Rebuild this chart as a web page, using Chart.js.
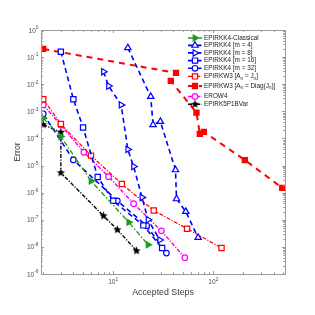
<!DOCTYPE html>
<html>
<head>
<meta charset="utf-8">
<script src="https://cdn.jsdelivr.net/npm/chart.js@4/dist/chart.umd.min.js"></script>
<style>
  html, body { margin: 0; padding: 0; background: #fff; }
  #wrap { width: 315px; height: 315px; }
</style>
</head>
<body>
<div id="wrap"><canvas id="chart" width="315" height="315"></canvas></div>
<script>
// values (accepted steps vs. error)
const methodNames = ['EPIRKK4-Classical', 'EPIRKK4 [m = 4]', 'EPIRKK4 [m = 8]', 'EPIRKK4 [m = 16]',
  'EPIRKK4 [m = 32]', 'EPIRKW3 [A_n = J_n]', 'EPIRKW3 [A_n = Diag(J_n)]', 'EROW4', 'EPIRK5P1BVar'];

const classicalSteps = [2, 3, 6, 14.3, 22.3];
const classicalError = [5.6e-4, 1.17e-4, 2.7e-6, 8.1e-8, 1.2e-8];
const m4Steps = [14, 23.7, 25, 29.6, 41.9, 42.9, 53.1, 70.5];
const m4Error = [0.22, 3.5e-3, 3.2e-4, 4.2e-4, 6.9e-6, 5.9e-7, 2.0e-7, 2.2e-8];
const m8Steps = [8, 9, 12, 14, 16, 19.4, 22.3, 29.2];
const m8Error = [0.029, 8.6e-3, 1.73e-3, 3.95e-5, 9.2e-6, 6.7e-7, 1.0e-7, 1.8e-8];
const m16Steps = [3, 4, 5, 7, 10, 20, 30.8];
const m16Error = [0.158, 2.8e-3, 2.55e-4, 3.8e-6, 5.0e-7, 6.2e-8, 9.1e-9];
const m32Steps = [2, 4, 11, 21.6, 34];
const m32Error = [8.0e-4, 1.62e-5, 5.0e-7, 6.0e-8, 5.9e-9];
const w3JSteps = [2, 3, 6, 12.2, 25.4, 54.7, 120.8];
const w3JError = [2.8e-3, 3.4e-4, 2.33e-5, 2.1e-6, 2.2e-7, 4.7e-8, 9.1e-9];
const w3DiagSteps = [2, 42.4, 37.6, 67.9, 73.3, 80.4, 206.5, 487.5];
const w3DiagError = [0.2, 0.026, 0.0132, 9.0e-4, 1.47e-4, 1.75e-4, 1.6e-5, 1.5e-6];
const erowSteps = [2, 3, 5.1, 9, 16, 30.3, 51.9];
const erowError = [1.73e-3, 3.1e-4, 3.1e-5, 3.9e-6, 3.9e-7, 3.9e-8, 4.0e-9];
const epirk5Steps = [2, 3, 3, 8, 11, 17.1];
const epirk5Error = [3.2e-4, 1.7e-4, 5.4e-6, 1.4e-7, 4.3e-8, 7.2e-9];

const xTickExps = [1, 2];
const yTickExps = [0, -1, -2, -3, -4, -5, -6, -7, -8, -9];

function makeStar(r, color) {
  const c = document.createElement('canvas');
  const s = Math.ceil(r * 2 + 2);
  c.width = c.height = s;
  const g = c.getContext('2d');
  g.beginPath();
  for (let i = 0; i < 10; i++) {
    const rad = i % 2 ? r * 0.45 : r;
    const ang = -Math.PI / 2 + i * Math.PI / 5;
    g.lineTo(s / 2 + rad * Math.cos(ang), s / 2 + rad * Math.sin(ang));
  }
  g.closePath();
  g.fillStyle = color;
  g.fill();
  return c;
}
const starImg = makeStar(4.4, '#000');

const blueDash = [5, 3.5];
const series = [
  {steps: classicalSteps, err: classicalError, color: '#1e9a1e', dash: [5, 2, 1.5, 2], width: 1.3, style: 'triangle', rot: 90, r: 3.5, open: false},
  {steps: m4Steps, err: m4Error, color: '#0000ff', dash: blueDash, width: 1.6, style: 'triangle', rot: 0, r: 3.7, open: true},
  {steps: m8Steps, err: m8Error, color: '#0000ff', dash: blueDash, width: 1.6, style: 'triangle', rot: 90, r: 3.7, open: true},
  {steps: m16Steps, err: m16Error, color: '#0000ff', dash: blueDash, width: 1.6, style: 'rect', rot: 0, r: 3.7, open: true},
  {steps: m32Steps, err: m32Error, color: '#0000ff', dash: blueDash, width: 1.6, style: 'circle', rot: 0, r: 2.8, open: true},
  {steps: w3JSteps, err: w3JError, color: '#ff0000', dash: [4, 1.5, 1.2, 1.5], width: 1.2, style: 'rect', rot: 0, r: 3.7, open: true},
  {steps: w3DiagSteps, err: w3DiagError, color: '#ff0000', dash: [6, 5], width: 2, style: 'rect', rot: 0, r: 3.6, open: false},
  {steps: erowSteps, err: erowError, color: '#ff00ff', dash: [4, 1.5, 1.2, 1.5], width: 1.5, style: 'circle', rot: 0, r: 2.8, open: true},
  {steps: epirk5Steps, err: epirk5Error, color: '#000000', dash: [4, 1.5, 1.2, 1.5], width: 1.4, style: starImg, rot: 0, r: 4.4, open: false}
];

const datasets = series.map((s, i) => ({
  label: methodNames[i],
  data: s.steps.map((v, k) => ({x: v, y: s.err[k]})),
  borderColor: s.color,
  borderWidth: s.width,
  borderDash: s.dash,
  pointStyle: s.style,
  pointRotation: s.rot,
  pointRadius: s.r,
  pointBorderWidth: 1.2,
  pointBorderColor: s.color,
  pointBackgroundColor: s.open ? '#ffffff' : s.color,
  fill: false,
  tension: 0
}));

// draws "10" with a raised exponent; align: 'right' or 'center'
function drawPow(ctx, exp, x, y, align) {
  const base = '10', sup = String(exp);
  ctx.font = '6.6px "Liberation Sans", Arial, sans-serif';
  const wb = ctx.measureText(base).width;
  ctx.font = '4.8px "Liberation Sans", Arial, sans-serif';
  const ws = ctx.measureText(sup).width;
  const total = wb + ws;
  const left = align === 'right' ? x - total : x - total / 2;
  ctx.textAlign = 'left';
  ctx.textBaseline = 'alphabetic';
  ctx.font = '6.6px "Liberation Sans", Arial, sans-serif';
  ctx.fillText(base, left, y);
  ctx.font = '4.8px "Liberation Sans", Arial, sans-serif';
  ctx.fillText(sup, left + wb, y - 3.3);
}

const axesPlugin = {
  id: 'matlabAxes',
  afterDraw(chart) {
    const {ctx, chartArea: a, scales: {x, y}} = chart;
    ctx.save();
    ctx.strokeStyle = '#9a9a9a';
    ctx.lineWidth = 1;
    ctx.strokeRect(Math.round(a.left) + 0.5, Math.round(a.top) + 0.5,
      Math.round(a.right - a.left), Math.round(a.bottom - a.top));

    ctx.beginPath();
    // y ticks (major + minor), both sides
    const yLo = Math.min(...yTickExps), yHi = Math.max(...yTickExps);
    for (let e = yLo; e <= yHi; e++) {
      for (let k = 1; k <= 9; k++) {
        if (e === yHi && k > 1) break;
        const py = Math.round(y.getPixelForValue(k * Math.pow(10, e))) + 0.5;
        const len = k === 1 ? 3 : 1.8;
        ctx.moveTo(a.left, py); ctx.lineTo(a.left + len, py);
        ctx.moveTo(a.right, py); ctx.lineTo(a.right - len, py);
      }
    }
    // x ticks
    for (let e = 0; e <= 2; e++) {
      for (let k = 1; k <= 9; k++) {
        const v = k * Math.pow(10, e);
        if (v < x.min || v > x.max) continue;
        const px = Math.round(x.getPixelForValue(v)) + 0.5;
        const len = k === 1 ? 3 : 1.8;
        ctx.moveTo(px, a.bottom); ctx.lineTo(px, a.bottom - len);
        ctx.moveTo(px, a.top); ctx.lineTo(px, a.top + len);
      }
    }
    ctx.stroke();

    ctx.fillStyle = '#505050';
    yTickExps.forEach(e => {
      const py = y.getPixelForValue(Math.pow(10, e));
      drawPow(ctx, e, a.left - 2.5, py + 2.6, 'right');
    });
    xTickExps.forEach(e => {
      const px = x.getPixelForValue(Math.pow(10, e));
      drawPow(ctx, e, px, a.bottom + 10, 'center');
    });

    // axis titles
    ctx.fillStyle = '#3a3a3a';
    ctx.font = '8.8px "Liberation Sans", Arial, sans-serif';
    ctx.textAlign = 'center';
    ctx.textBaseline = 'middle';
    ctx.fillText('Accepted Steps', (a.left + a.right) / 2, a.bottom + 18.5);
    ctx.save();
    ctx.translate(18, (a.top + a.bottom) / 2);
    ctx.rotate(-Math.PI / 2);
    ctx.fillText('Error', 0, 0);
    ctx.restore();
    ctx.restore();
  }
};

// label text with "_c" subscripts
function drawLabel(ctx, text, x, y) {
  const parts = text.split(/(_.)/);
  let cx = x;
  parts.forEach(p => {
    if (!p) return;
    if (p[0] === '_') {
      ctx.font = '4.6px "Liberation Sans", Arial, sans-serif';
      ctx.fillText(p[1], cx, y + 2);
    } else {
      ctx.font = '6.4px "Liberation Sans", Arial, sans-serif';
      ctx.fillText(p, cx, y);
    }
    cx += ctx.measureText(p[0] === '_' ? p[1] : p).width;
  });
}

const legendRows = [38, 45.4, 52.9, 60.6, 68.3, 76.4, 86, 96.5, 104.2];
const legendPlugin = {
  id: 'sideLegend',
  afterDraw(chart) {
    const ctx = chart.ctx;
    ctx.save();
    chart.data.datasets.forEach((ds, i) => {
      const ry = legendRows[i];
      ctx.strokeStyle = ds.borderColor;
      ctx.lineWidth = ds.borderWidth;
      ctx.setLineDash(ds.borderDash);
      ctx.beginPath();
      ctx.moveTo(188, ry); ctx.lineTo(202, ry);
      ctx.stroke();
      ctx.setLineDash([]);
      ctx.fillStyle = ds.pointBackgroundColor;
      ctx.strokeStyle = ds.pointBorderColor;
      ctx.lineWidth = ds.pointBorderWidth;
      Chart.helpers.drawPoint(ctx, {pointStyle: ds.pointStyle, rotation: ds.pointRotation,
        radius: ds.pointRadius, borderWidth: ds.pointBorderWidth}, 195, ry);
      ctx.fillStyle = '#222';
      ctx.textAlign = 'left';
      ctx.textBaseline = 'middle';
      drawLabel(ctx, ds.label, 204, ry);
    });
    ctx.restore();
  }
};

new Chart(document.getElementById('chart').getContext('2d'), {
  type: 'line',
  data: {datasets: datasets},
  options: {
    responsive: false,
    animation: false,
    devicePixelRatio: 1,
    layout: {padding: {left: 41, top: 30, right: 30, bottom: 41}},
    plugins: {legend: {display: false}, tooltip: {enabled: false}},
    scales: {
      x: {
        type: 'logarithmic', min: 1.9, max: 520,
        ticks: {display: false}, grid: {display: false, drawTicks: false}, border: {display: false}
      },
      y: {
        type: 'logarithmic', min: 1e-9, max: 1,
        ticks: {display: false}, grid: {display: false, drawTicks: false}, border: {display: false}
      }
    }
  },
  plugins: [axesPlugin, legendPlugin]
});
</script>
</body>
</html>
